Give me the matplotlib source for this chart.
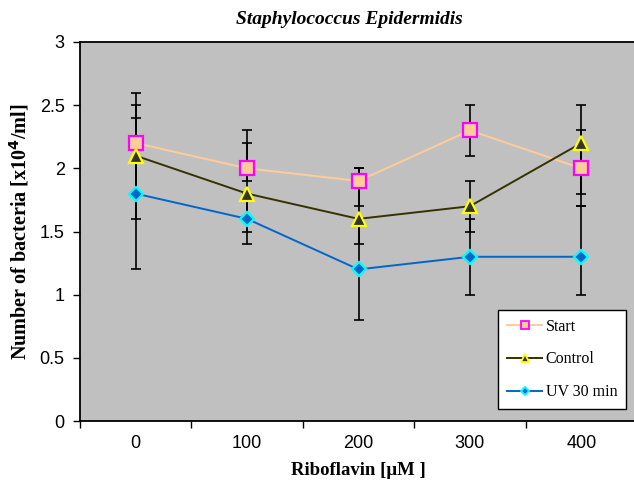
import numpy as np
from matplotlib import pyplot as plt
from matplotlib.ticker import FixedLocator

#  -------------------------------------------  data  ------------------------------------------  #

conc = ["0", "100", "200", "300", "400"]

start = [2.2, 2.0, 1.9, 2.3, 2.0]
start_lo = [0.4, 0.1, 0.2, 0.2, 0.3]
start_hi = [0.4, 0.3, 0.1, 0.2, 0.3]

control = [2.1, 1.8, 1.6, 1.7, 2.2]
control_lo = [0.5, 0.4, 0.2, 0.2, 0.4]
control_hi = [0.4, 0.4, 0.4, 0.2, 0.3]

uv = [1.8, 1.6, 1.2, 1.3, 1.3]
uv_lo = [0.6, 0.1, 0.4, 0.3, 0.3]
uv_hi = [0.6, 0.2, 0.4, 0.3, 0.4]

#  -------------------------------------------  plot  ------------------------------------------  #

fig = plt.figure(figsize=(6.34, 4.84), dpi=100)
ax = fig.add_axes([80/634, 1 - 421/484, 557/634, 379/484])
ax.set_facecolor("#C0C0C0")

x = np.arange(len(conc))

series = [
    (start, start_lo, start_hi, "Start", "#FFCC99", "s", "#FFCC99", "#FF00FF", 9.5),
    (control, control_lo, control_hi, "Control", "#333300", "^", "#333333", "#FFFF00", 9.5),
    (uv, uv_lo, uv_hi, "UV 30 min", "#0066CC", "D", "#0066CC", "#00FFFF", 7),
]

for vals, lo, hi, lab, col, mk, fc, ec, ms in series:
    ax.errorbar(x, vals, yerr=[lo, hi], fmt="none", ecolor="black",
                elinewidth=1.2, capsize=3.3, capthick=1.2, zorder=3)
    ax.plot(x, vals, color=col, lw=1.4, zorder=2)
    ax.plot(x, vals, ls="none", marker=mk, ms=ms, mfc=fc, mec=ec, mew=1.6,
            zorder=4)

# legend handles
handles = []
for vals, lo, hi, lab, col, mk, fc, ec, ms in series:
    h, = ax.plot([], [], color=col, lw=1.4, marker=mk, ms=ms * 0.65, mfc=fc,
                 mec=ec, mew=1.3, label=lab)
    handles.append(h)

ax.set_xlim(-0.5, 4.5)
ax.set_ylim(0, 3)
ax.set_yticks(np.arange(0, 3.01, 0.5))
ax.set_yticklabels(["0", "0.5", "1", "1.5", "2", "2.5", "3"],
                   family="Liberation Sans", fontsize=13)
ax.xaxis.set_major_locator(FixedLocator(np.arange(-0.5, 4.6, 1)))
ax.xaxis.set_minor_locator(FixedLocator(x))
ax.set_xticklabels([])
ax.set_xticklabels(conc, minor=True, family="Liberation Sans", fontsize=13)
ax.tick_params(axis="x", which="minor", length=0, pad=10)
ax.tick_params(axis="x", which="major", length=5, width=1, direction="out")
ax.tick_params(axis="y", length=5, width=1, direction="out", pad=6)

for s in ["left", "bottom", "top"]:
    ax.spines[s].set_linewidth(1.3)
ax.spines["right"].set_visible(False)

ax.set_xlabel(r"Riboflavin [μM ]", family="Liberation Serif",
              fontweight="bold", fontsize=13.5, labelpad=7)
ax.set_ylabel(r"Number of bacteria [x10$^\mathbf{4}$/ml]",
              family="Liberation Serif", fontweight="bold", fontsize=14.5,
              labelpad=6)
fig.text(349/634, 1 - 19/484, "Staphylococcus Epidermidis",
         ha="center", va="center", family="Liberation Serif",
         fontweight="bold", style="italic", fontsize=14)

leg = ax.legend(handles=handles, loc="lower right",
                bbox_to_anchor=(626/634, (484 - 409)/484),
                bbox_transform=fig.transFigure,
                prop={"family": "Liberation Serif", "size": 11.5},
                frameon=True, fancybox=False, framealpha=1, edgecolor="black",
                handlelength=2.2, handletextpad=0.2, labelspacing=1.05,
                borderpad=0.55, borderaxespad=0)
leg.get_frame().set_linewidth(1.0)

plt.savefig("out.png", dpi=100)
